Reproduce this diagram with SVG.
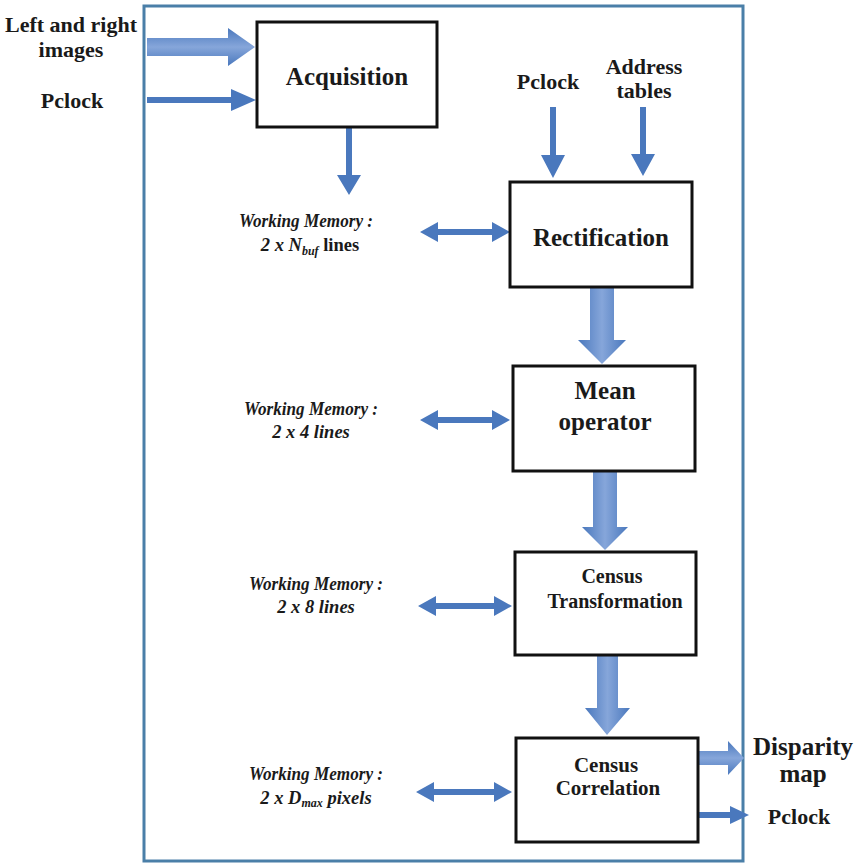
<svg xmlns="http://www.w3.org/2000/svg" width="857" height="863" viewBox="0 0 857 863">
<style>
.box{fill:#fff;stroke:#111;stroke-width:3}
.t{font-family:"Liberation Serif","DejaVu Serif",serif;font-weight:bold;fill:#1a1a1a;text-anchor:middle}
.wm{font-family:"Liberation Serif","DejaVu Serif",serif;font-weight:bold;font-style:italic;fill:#1a1a1a;text-anchor:middle;font-size:18.5px}
.ar{fill:#4a78bd}
.big{fill:url(#g)}
.bigh{fill:url(#gh)}
</style>
<defs>
<linearGradient id="g" x1="0" y1="0" x2="1" y2="0">
<stop offset="0" stop-color="#4a78bd"/><stop offset="0.5" stop-color="#86a6da"/><stop offset="1" stop-color="#4a78bd"/>
</linearGradient>
<linearGradient id="gh" x1="0" y1="0" x2="0" y2="1">
<stop offset="0" stop-color="#4a78bd"/><stop offset="0.5" stop-color="#86a6da"/><stop offset="1" stop-color="#4a78bd"/>
</linearGradient>
</defs>
<rect width="857" height="863" fill="#fff"/>
<rect id="frame" x="144" y="6" width="599" height="855" fill="none" stroke="#4a7fa8" stroke-width="3"/>

<g id="connectors">
<path class="bigh" d="M147,38 H228 V28 L255,47 L228,66 V56 H147 Z"/>
<path class="ar" d="M147,97 H231 V89 L256,100 L231,111 V103 H147 Z"/>
<path class="ar" d="M346,128 V175 H337 L349,195 L361,175 H352 V128 Z"/>
<path class="ar" d="M550,107 V155 H541 L553,178 L565,155 H556 V107 Z"/>
<path class="ar" d="M640,107 V154 H631 L643,176 L655,154 H646 V107 Z"/>
<path class="ar" d="M420,232 L438,222 V229 H492 V222 L510,232 L492,242 V235 H438 V242 Z"/>
<path class="ar" d="M420,420 L438,410 V417 H492 V410 L510,420 L492,430 V423 H438 V430 Z"/>
<path class="ar" d="M418,606 L436,596 V603 H494 V596 L512,606 L494,616 V609 H436 V616 Z"/>
<path class="ar" d="M416,792 L434,782 V789 H494 V782 L512,792 L494,802 V795 H434 V802 Z"/>
<path class="big" d="M590,288 V340 H578 L602,364 L626,340 H614 V288 Z"/>
<path class="big" d="M593,471 V527 H582 L605,550 L628,527 H617 V471 Z"/>
<path class="big" d="M597,655 V708 H585 L607,735 L630,708 H618 V655 Z"/>
<path class="bigh" d="M698,751 H728 V741 L744,758 L728,775 V765 H698 Z"/>
<path class="ar" d="M698,812 H730 V806 L749,815 L730,824 V818 H698 Z"/>
</g>

<g id="acquisition">
<rect class="box" x="257" y="22" width="180" height="105"/>
<text class="t" x="347" y="85" font-size="25">Acquisition</text>
</g>
<g id="rectification">
<rect class="box" x="510" y="182" width="182" height="105"/>
<text class="t" x="601" y="246" font-size="25">Rectification</text>
</g>
<g id="mean">
<rect class="box" x="513" y="366" width="182" height="105"/>
<text class="t" x="605" y="399" font-size="25">Mean</text>
<text class="t" x="605" y="430" font-size="25">operator</text>
</g>
<g id="census-transformation">
<rect class="box" x="515" y="552" width="181" height="103"/>
<text class="t" x="612" y="583" font-size="20">Census</text>
<text class="t" x="615" y="608" font-size="20">Transformation</text>
</g>
<g id="census-correlation">
<rect class="box" x="516" y="738" width="182" height="104"/>
<text class="t" x="606" y="772" font-size="21">Census</text>
<text class="t" x="608" y="795" font-size="21">Correlation</text>
</g>

<g id="inputs">
<text class="t" x="71" y="32" font-size="22">Left and right</text>
<text class="t" x="71" y="57" font-size="22">images</text>
<text class="t" x="72" y="108" font-size="22">Pclock</text>
<text class="t" x="548" y="89" font-size="22">Pclock</text>
<text class="t" x="644" y="74" font-size="22">Address</text>
<text class="t" x="644" y="98" font-size="22">tables</text>
</g>

<g id="memories">
<text class="wm" x="306" y="227" textLength="134" lengthAdjust="spacingAndGlyphs">Working Memory :</text>
<text class="wm" x="310" y="251">2 x N<tspan font-size="12" dy="4">buf</tspan><tspan dy="-4" font-style="normal">  lines</tspan></text>
<text class="wm" x="311" y="415" textLength="134" lengthAdjust="spacingAndGlyphs">Working Memory :</text>
<text class="wm" x="311" y="438">2 x 4 lines</text>
<text class="wm" x="316" y="590" textLength="134" lengthAdjust="spacingAndGlyphs">Working Memory :</text>
<text class="wm" x="316" y="613">2 x 8  lines</text>
<text class="wm" x="316" y="780" textLength="134" lengthAdjust="spacingAndGlyphs">Working Memory :</text>
<text class="wm" x="316" y="804">2 x D<tspan font-size="12" dy="3">max</tspan><tspan dy="-3"> pixels</tspan></text>
</g>

<g id="outputs">
<text class="t" x="803" y="755" font-size="25">Disparity</text>
<text class="t" x="803" y="782" font-size="25">map</text>
<text class="t" x="799" y="824" font-size="22">Pclock</text>
</g>
</svg>
